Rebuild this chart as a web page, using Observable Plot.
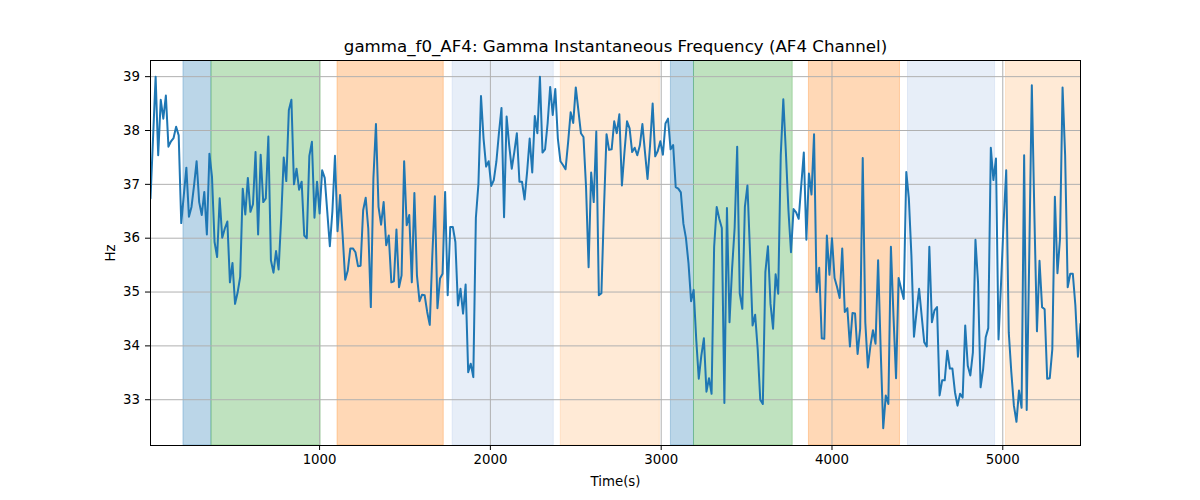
<!DOCTYPE html>
<html>
<head>
<meta charset="utf-8">
<script src="https://cdn.jsdelivr.net/npm/d3@7"></script>
<script src="https://cdn.jsdelivr.net/npm/@observablehq/plot@0.6"></script>
<style>
  html, body { margin: 0; padding: 0; background: #fff; }
  #chart { width: 1200px; height: 500px; }
</style>
</head>
<body>
<div id="chart"></div>
<script>
const titleText = "gamma_f0_AF4: Gamma Instantaneous Frequency (AF4 Channel)";
const xLabel = "Time(s)";
const yLabel = "Hz";

// sampling of the time axis (seconds)
const timeStart = 10;
const timeStep = 15;

// Gamma instantaneous frequency (Hz), one value per sample
const freqValues = [
  36.74, 37.87, 39.00, 37.54, 38.57, 38.22, 38.65, 37.70, 37.80, 37.86,
  38.07, 37.91, 36.28, 36.80, 37.31, 36.40, 36.58, 36.98, 37.43, 36.67,
  36.43, 36.86, 36.07, 37.57, 37.14, 35.93, 35.65, 36.74, 36.01, 36.18,
  36.31, 35.18, 35.54, 34.78, 34.99, 35.28, 36.92, 36.44, 37.12, 36.49,
  36.63, 37.60, 36.07, 37.55, 36.67, 36.74, 37.89, 35.59, 35.36, 35.76,
  35.42, 36.36, 37.50, 37.06, 38.38, 38.57, 37.00, 37.29, 36.90, 37.05,
  36.05, 36.00, 37.53, 37.79, 36.38, 37.05, 36.46, 37.26, 37.12, 36.49,
  35.85, 36.50, 37.53, 36.13, 36.80, 36.05, 35.23, 35.40, 35.81, 35.81,
  35.74, 35.48, 35.49, 36.52, 36.75, 36.18, 34.72, 37.11, 38.12, 36.58,
  36.25, 36.67, 35.87, 36.05, 35.18, 35.20, 36.16, 35.09, 35.31, 37.43,
  36.24, 36.43, 35.18, 36.84, 35.31, 34.83, 34.95, 34.94, 34.63, 34.39,
  35.68, 36.78, 34.70, 35.25, 35.34, 36.86, 34.94, 36.21, 36.21, 35.93,
  34.75, 35.06, 34.60, 35.14, 33.51, 33.67, 33.42, 36.38, 37.01, 38.64,
  37.85, 37.33, 37.43, 36.97, 37.08, 37.42, 37.95, 38.42, 36.39, 38.26,
  37.73, 37.29, 37.60, 37.95, 37.05, 37.05, 36.72, 37.23, 37.85, 37.22,
  38.27, 37.95, 39.00, 37.59, 37.65, 38.13, 38.81, 38.29, 38.77, 37.85,
  37.43, 37.36, 37.28, 37.78, 38.34, 38.14, 38.80, 38.38, 37.95, 37.88,
  36.95, 35.46, 37.22, 36.67, 37.98, 34.94, 34.98, 36.55, 37.93, 37.64,
  37.65, 38.17, 37.95, 38.30, 36.98, 37.60, 38.17, 38.04, 37.60, 37.68,
  37.54, 37.72, 38.12, 37.60, 37.10, 37.73, 38.50, 37.52, 37.62, 37.80,
  37.55, 38.13, 38.22, 37.65, 37.73, 36.95, 36.92, 36.85, 36.27, 36.00,
  35.53, 34.83, 35.04, 34.13, 33.39, 33.82, 34.14, 33.15, 33.40, 33.11,
  35.84, 36.58, 36.36, 36.19, 32.94, 36.56, 34.44, 35.43, 36.19, 37.70,
  34.97, 34.69, 36.58, 36.98, 35.74, 34.38, 34.58, 33.94, 33.00, 32.92,
  35.37, 35.85, 34.78, 34.32, 35.33, 34.97, 37.54, 38.58, 37.60, 36.52,
  35.74, 36.54, 36.48, 36.36, 36.98, 37.59, 35.97, 37.20, 36.81, 37.93,
  35.00, 35.45, 34.14, 34.13, 36.05, 35.32, 36.00, 35.26, 35.09, 34.89,
  35.81, 34.63, 34.70, 33.99, 34.61, 34.60, 33.85, 34.32, 37.49, 34.44,
  33.60, 34.00, 34.29, 34.04, 35.59, 33.94, 32.47, 33.08, 32.92, 35.84,
  34.56, 33.40, 35.26, 35.06, 34.87, 37.23, 36.74, 35.68, 34.17, 34.63,
  35.06, 34.56, 34.07, 33.99, 35.84, 34.44, 34.66, 34.72, 33.08, 33.36,
  33.36, 33.91, 33.58, 33.58, 33.14, 32.89, 33.11, 33.04, 34.38, 33.63,
  33.45, 33.88, 35.97, 35.18, 33.23, 33.57, 34.16, 34.33, 37.68, 37.08,
  37.48, 34.12, 35.18, 36.30, 37.26, 34.25, 33.51, 32.89, 32.59, 33.17,
  32.85, 37.54, 32.81, 35.68, 38.84, 36.43, 34.27, 35.58, 34.72, 34.68,
  33.39, 33.40, 33.94, 36.77, 35.35, 35.99, 38.80, 37.54, 35.09, 35.34,
  35.34, 34.75, 33.80, 34.41
];

// shaded segments (seconds) and their colours
const spanStarts = [203, 367, 1105, 1779, 2412, 3057, 3192, 3865, 4445, 5019];
const spanEnds   = [367, 1006, 1727, 2371, 2992, 3192, 3770, 4398, 4955, 5470];
const spanColors = ["#1f77b4", "#2ca02c", "#ff7f0e", "#aec7e8", "#ffbb78",
                    "#1f77b4", "#2ca02c", "#ff7f0e", "#aec7e8", "#ffbb78"];
const spanAlphas = [0.3, 0.3, 0.3, 0.3, 0.3, 0.3, 0.3, 0.3, 0.3, 0.3];

const xTicks = [1000, 2000, 3000, 4000, 5000];
const yTicks = [33, 34, 35, 36, 37, 38, 39];

const series = freqValues.map((v, i) => ({t: timeStart + i * timeStep, hz: v}));
const spans = spanStarts.map((s, i) => ({
  start: s, end: spanEnds[i], color: spanColors[i], alpha: spanAlphas[i]
}));

const tMin = series[0].t;
const tMax = series[series.length - 1].t;

const font = "'DejaVu Sans', sans-serif";

const chart = Plot.plot({
  width: 1200,
  height: 500,
  marginLeft: 150,
  marginRight: 120,
  marginTop: 60,
  marginBottom: 55,
  style: {fontFamily: font, fontSize: "13.33px", color: "#000", background: "#fff"},
  x: {domain: [tMin, tMax]},
  y: {domain: [32.15, 39.3]},
  color: {type: "identity"},
  marks: [
    Plot.rect(spans, {
      x1: "start", x2: "end",
      fill: "color", fillOpacity: "alpha",
      stroke: "color", strokeOpacity: "alpha", strokeWidth: 1,
      clip: true
    }),
    Plot.gridX(xTicks, {stroke: "#b0b0b0", strokeOpacity: 1, strokeWidth: 1}),
    Plot.gridY(yTicks, {stroke: "#b0b0b0", strokeOpacity: 1, strokeWidth: 1}),
    Plot.line(series, {x: "t", y: "hz", stroke: "#1f77b4", strokeWidth: 2, clip: true}),
    Plot.frame({stroke: "#000", strokeWidth: 1}),
    Plot.axisX({ticks: xTicks, tickFormat: d => String(d), tickSize: 5, tickPadding: 4.5, label: null, fontSize: 13.33}),
    Plot.axisY({ticks: yTicks, tickFormat: d => String(d), tickSize: 5, tickPadding: 5.5, label: null, fontSize: 13.33}),
    Plot.text([titleText], {frameAnchor: "top", lineAnchor: "middle", dy: -14, fontSize: 16.67, fill: "#000"}),
    Plot.text([xLabel], {frameAnchor: "bottom", lineAnchor: "middle", dy: 36, fontSize: 13.33, fill: "#000"}),
    Plot.text([yLabel], {frameAnchor: "left", lineAnchor: "middle", textAnchor: "middle", dx: -40, rotate: -90, fontSize: 13.33, fill: "#000"})
  ]
});
document.getElementById("chart").appendChild(chart);
</script>
</body>
</html>
